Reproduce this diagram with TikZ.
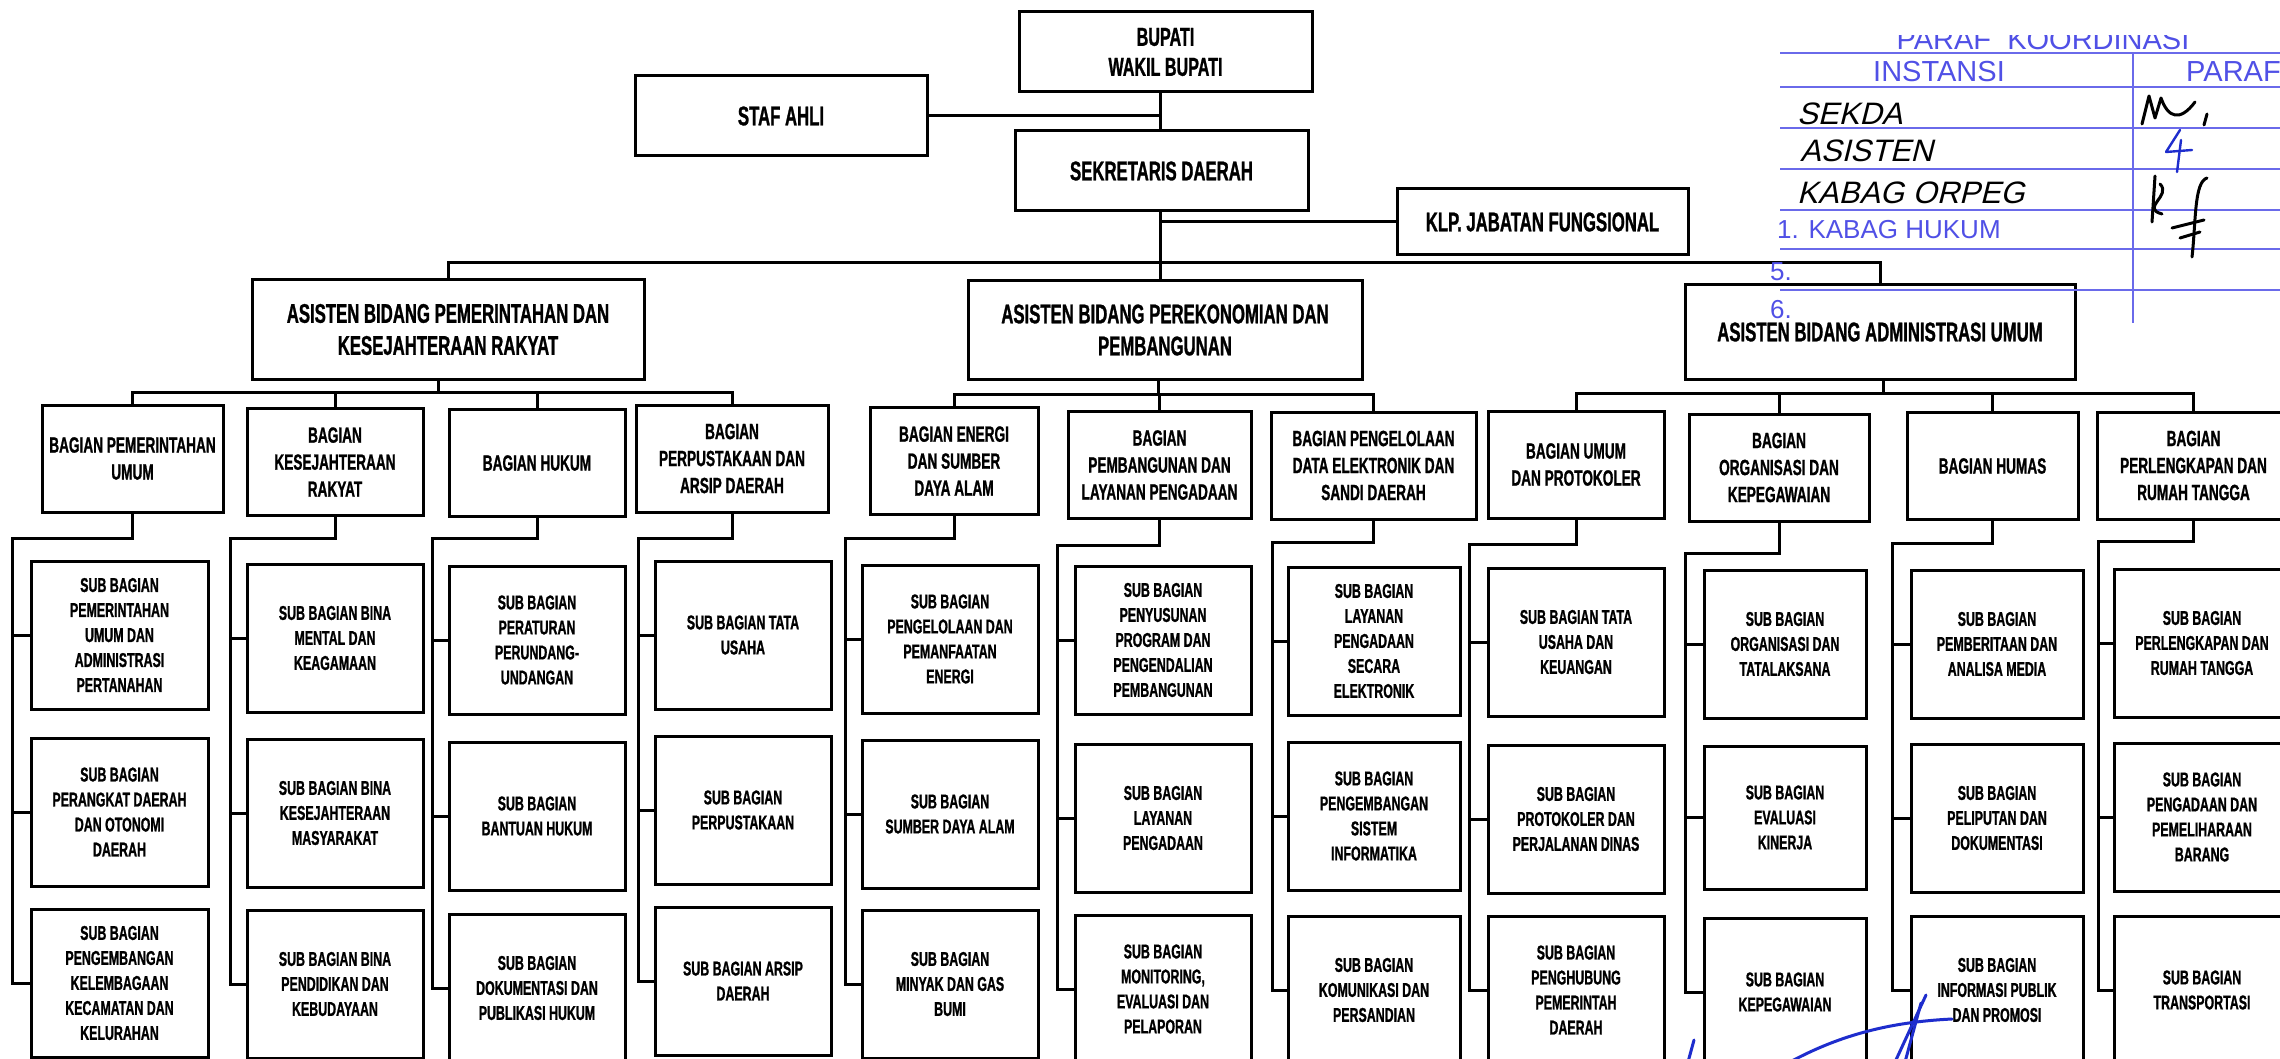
\documentclass[tikz,border=0pt]{standalone}
\usepackage{fontspec}
\newfontfamily\orgfont{Liberation Sans}[FakeStretch=0.62, FakeBold=1]
\newfontfamily\stampfont{Liberation Sans}
\newfontfamily\handfont{Liberation Sans}[FakeSlant=0.25]
\definecolor{stampblue}{RGB}{80,80,230}
\definecolor{penblue}{RGB}{30,45,205}

\tikzset{
  box/.style={draw, line width=3pt, align=center, inner sep=0pt},
  headbox/.style={box, font=\orgfont\bfseries\fontsize{27}{32}\selectfont},
  bagbox/.style={box, font=\orgfont\bfseries\fontsize{22}{27}\selectfont, minimum height=107pt},
  subbox/.style={box, font=\orgfont\bfseries\fontsize{20}{25}\selectfont, minimum width=176pt, minimum height=148pt},
  link/.style={line width=3pt},
  stampline/.style={line width=2.8pt, stampblue!85},
  stamptext/.style={inner sep=0pt, text=stampblue, font=\stampfont\fontsize{29}{29}\selectfont},
  hand/.style={inner sep=0pt, font=\handfont\fontsize{31}{31}\selectfont},
  ink/.style={line width=3pt, line cap=round, line join=round},
}

\begin{document}
\begin{tikzpicture}[x=1pt, y=-1pt]
        \path[use as bounding box, fill=white] (0,0) rectangle (2280,1059);

        % Top level
        \node[headbox, font=\orgfont\bfseries\fontsize{26}{30}\selectfont, minimum width=293pt, minimum height=80pt] (bupati) at (1165.5,52) {BUPATI\\WAKIL BUPATI};
        \node[headbox, minimum width=292pt, minimum height=80pt] (staf) at (781,116) {STAF AHLI};
        \node[headbox, minimum width=293pt, minimum height=80pt] (sekda) at (1161.5,171) {SEKRETARIS DAERAH};
        \node[headbox, minimum width=291pt, minimum height=66pt] (klp) at (1542.5,222) {KLP. JABATAN FUNGSIONAL};
        \coordinate (tr) at (1160,263);

        % Asisten
        \node[headbox, minimum width=392pt, minimum height=99pt] (asis1) at (448,329.5) {ASISTEN BIDANG PEMERINTAHAN DAN\\KESEJAHTERAAN RAKYAT};
        \node[headbox, minimum width=394pt, minimum height=98pt] (asis2) at (1165,330) {ASISTEN BIDANG PEREKONOMIAN DAN\\PEMBANGUNAN};
        \node[headbox, minimum width=390pt, minimum height=94pt] (asis3) at (1880,332) {ASISTEN BIDANG ADMINISTRASI UMUM};

        \draw[link] (bupati.south -| tr) -- (sekda.north -| tr);
        \draw[link] (staf.east) -- (staf.east -| tr);
        \draw[link] (sekda.south -| tr) -- (asis2.north -| tr);
        \draw[link] (klp.west) -- (klp.west -| tr);
        \draw[link] (asis1.north) |- (tr) -| (asis3.north);

        % Bagian
        \node[bagbox, minimum width=181pt] (bag1) at (132.5,458.5) {BAGIAN PEMERINTAHAN\\UMUM};
        \node[bagbox, minimum width=176pt] (bag2) at (335,462) {BAGIAN\\KESEJAHTERAAN\\RAKYAT};
        \node[bagbox, minimum width=176pt] (bag3) at (537,463) {BAGIAN HUKUM};
        \node[bagbox, minimum width=192pt] (bag4) at (732,458.5) {BAGIAN\\PERPUSTAKAAN DAN\\ARSIP DAERAH};
        \node[bagbox, minimum width=168pt] (bag5) at (954,461) {BAGIAN ENERGI\\DAN SUMBER\\DAYA ALAM};
        \node[bagbox, minimum width=183pt] (bag6) at (1159.5,465) {BAGIAN\\PEMBANGUNAN DAN\\LAYANAN PENGADAAN};
        \node[bagbox, minimum width=205pt] (bag7) at (1373.5,465.5) {BAGIAN PENGELOLAAN\\DATA ELEKTRONIK DAN\\SANDI DAERAH};
        \node[bagbox, minimum width=176pt] (bag8) at (1576,464.5) {BAGIAN UMUM\\DAN PROTOKOLER};
        \node[bagbox, minimum width=180pt] (bag9) at (1779,467.5) {BAGIAN\\ORGANISASI DAN\\KEPEGAWAIAN};
        \node[bagbox, minimum width=171pt] (bag10) at (1992.5,466) {BAGIAN HUMAS};
        \node[bagbox, minimum width=192pt] (bag11) at (2193.5,465.5) {BAGIAN\\PERLENGKAPAN DAN\\RUMAH TANGGA};

        \coordinate (k1) at (438,392);
        \coordinate (k2) at (1158,394);
        \coordinate (k3) at (1883,393);
        \draw[link] (asis1.south -| k1) -- (k1);
        \draw[link] (asis2.south -| k2) -- (k2);
        \draw[link] (asis3.south -| k3) -- (k3);
        \draw[link] (bag1.north) |- (k1) -| (bag4.north);
        \draw[link] (bag5.north) |- (k2) -| (bag7.north);
        \draw[link] (bag8.north) |- (k3) -| (bag11.north);
        \foreach \b/\k in {2/1, 3/1, 6/2, 9/3, 10/3}
          \draw[link] (bag\b.north) -- (bag\b.north |- k\k);

        % Sub bagian
        \node[subbox, minimum width=177pt] (s1-1) at (119.5,635) {SUB BAGIAN\\PEMERINTAHAN\\UMUM DAN\\ADMINISTRASI\\PERTANAHAN};
        \node[subbox, minimum width=177pt] (s1-2) at (119.5,812) {SUB BAGIAN\\PERANGKAT DAERAH\\DAN OTONOMI\\DAERAH};
        \node[subbox, minimum width=177pt] (s1-3) at (119.5,983) {SUB BAGIAN\\PENGEMBANGAN\\KELEMBAGAAN\\KECAMATAN DAN\\KELURAHAN};

        \node[subbox] (s2-1) at (335,638) {SUB BAGIAN BINA\\MENTAL DAN\\KEAGAMAAN};
        \node[subbox] (s2-2) at (335,813) {SUB BAGIAN BINA\\KESEJAHTERAAN\\MASYARAKAT};
        \node[subbox] (s2-3) at (335,984) {SUB BAGIAN BINA\\PENDIDIKAN DAN\\KEBUDAYAAN};

        \node[subbox] (s3-1) at (537,640) {SUB BAGIAN\\PERATURAN\\PERUNDANG-\\UNDANGAN};
        \node[subbox] (s3-2) at (537,816) {SUB BAGIAN\\BANTUAN HUKUM};
        \node[subbox] (s3-3) at (537,988) {SUB BAGIAN\\DOKUMENTASI DAN\\PUBLIKASI HUKUM};

        \node[subbox] (s4-1) at (743,635) {SUB BAGIAN TATA\\USAHA};
        \node[subbox] (s4-2) at (743,810) {SUB BAGIAN\\PERPUSTAKAAN};
        \node[subbox] (s4-3) at (743,981) {SUB BAGIAN ARSIP\\DAERAH};

        \node[subbox] (s5-1) at (950,639) {SUB BAGIAN\\PENGELOLAAN DAN\\PEMANFAATAN\\ENERGI};
        \node[subbox] (s5-2) at (950,814) {SUB BAGIAN\\SUMBER DAYA ALAM};
        \node[subbox] (s5-3) at (950,984) {SUB BAGIAN\\MINYAK DAN GAS\\BUMI};

        \node[subbox] (s6-1) at (1163,640) {SUB BAGIAN\\PENYUSUNAN\\PROGRAM DAN\\PENGENDALIAN\\PEMBANGUNAN};
        \node[subbox] (s6-2) at (1163,818) {SUB BAGIAN\\LAYANAN\\PENGADAAN};
        \node[subbox] (s6-3) at (1163,989) {SUB BAGIAN\\MONITORING,\\EVALUASI DAN\\PELAPORAN};

        \node[subbox, minimum width=172pt] (s7-1) at (1374,641) {SUB BAGIAN\\LAYANAN\\PENGADAAN\\SECARA\\ELEKTRONIK};
        \node[subbox, minimum width=172pt] (s7-2) at (1374,816) {SUB BAGIAN\\PENGEMBANGAN\\SISTEM\\INFORMATIKA};
        \node[subbox, minimum width=172pt] (s7-3) at (1374,990) {SUB BAGIAN\\KOMUNIKASI DAN\\PERSANDIAN};

        \node[subbox] (s8-1) at (1576,642) {SUB BAGIAN TATA\\USAHA DAN\\KEUANGAN};
        \node[subbox] (s8-2) at (1576,819) {SUB BAGIAN\\PROTOKOLER DAN\\PERJALANAN DINAS};
        \node[subbox] (s8-3) at (1576,990) {SUB BAGIAN\\PENGHUBUNG\\PEMERINTAH\\DAERAH};

        \node[subbox, minimum width=162pt] (s9-1) at (1785,644) {SUB BAGIAN\\ORGANISASI DAN\\TATALAKSANA};
        \node[subbox, minimum width=162pt, minimum height=143pt] (s9-2) at (1785,817.5) {SUB BAGIAN\\EVALUASI\\KINERJA};
        \node[subbox, minimum width=162pt] (s9-3) at (1785,992) {SUB BAGIAN\\KEPEGAWAIAN};

        \node[subbox, minimum width=172pt] (s10-1) at (1997,644) {SUB BAGIAN\\PEMBERITAAN DAN\\ANALISA MEDIA};
        \node[subbox, minimum width=172pt] (s10-2) at (1997,818) {SUB BAGIAN\\PELIPUTAN DAN\\DOKUMENTASI};
        \node[subbox, minimum width=172pt] (s10-3) at (1997,990) {SUB BAGIAN\\INFORMASI PUBLIK\\DAN PROMOSI};

        \node[subbox] (s11-1) at (2202,643) {SUB BAGIAN\\PERLENGKAPAN DAN\\RUMAH TANGGA};
        \node[subbox] (s11-2) at (2202,817) {SUB BAGIAN\\PENGADAAN DAN\\PEMELIHARAAN\\BARANG};
        \node[subbox] (s11-3) at (2202,990) {SUB BAGIAN\\TRANSPORTASI};

        % Bagian to sub bagian
        \coordinate (e1) at (12,538);
        \coordinate (e2) at (230,538);
        \coordinate (e3) at (432,538);
        \coordinate (e4) at (638,538);
        \coordinate (e5) at (845,538);
        \coordinate (e6) at (1057,545);
        \coordinate (e7) at (1272,542);
        \coordinate (e8) at (1469,544);
        \coordinate (e9) at (1685,553);
        \coordinate (e10) at (1892,543);
        \coordinate (e11) at (2098,541);
        \foreach \c in {1,...,11} {
          \draw[link] (bag\c.south) |- (e\c) |- (s\c-3.west);
          \draw[link] (e\c |- s\c-1.west) -- (s\c-1.west);
          \draw[link] (e\c |- s\c-2.west) -- (s\c-2.west);
        }

        % Paraf koordinasi stamp
        \begin{scope}
          \clip (1850,36) rectangle (2250,60);
          \node[stamptext, anchor=base] (paraftitle) at (2043,50) {PARAF\ \ KOORDINASI};
        \end{scope}
        \foreach \y in {53,87,128,169,210,249,290}
          \draw[stampline] (1780,\y) -- (2285,\y);
        \draw[stampline] (2133,53) -- (2133,323);
        \node[stamptext, anchor=base] (instansi) at (1939,82) {INSTANSI};
        \node[stamptext, anchor=base west] (paraf) at (2186,82) {PARAF};
        \node[stamptext, font=\stampfont\fontsize{26}{26}\selectfont, anchor=base west] (kabag) at (1777,239) {1. KABAG HUKUM};
        \node[stamptext, font=\stampfont\fontsize{26}{26}\selectfont, anchor=base west] (no5) at (1770,280) {5.};
        \node[stamptext, font=\stampfont\fontsize{26}{26}\selectfont, anchor=base west] (no6) at (1770,318) {6.};
        \node[hand, anchor=base west] (hw1) at (1797,125) {SEKDA};
        \node[hand, anchor=base west] (hw2) at (1800,162) {ASISTEN};
        \node[hand, anchor=base west] (hw3) at (1797,204) {KABAG\ ORPEG};

        % Paraf strokes
        \draw[ink] (2142,124) -- (2149,96) -- (2155,118) -- (2161,98) .. controls (2168,118) and (2180,122) .. (2195,102);
        \draw[ink] (2207,114) -- (2204,125);
        \draw[ink, penblue, line width=2.4pt] (2180,130) -- (2166,152) -- (2192,150);
        \draw[ink, penblue, line width=2.4pt] (2181,140) -- (2177,172);
        \draw[ink] (2155,176) -- (2152,222);
        \draw[ink] (2160,184) .. controls (2172,196) and (2140,208) .. (2162,214);
        \draw[ink] (2207,178) .. controls (2194,182) and (2196,222) .. (2192,257);
        \draw[ink] (2172,228) -- (2204,220);
        \draw[ink] (2180,238) -- (2200,232);

        % Signature
        \draw[ink, penblue] (1790,1062) .. controls (1840,1035) and (1890,1022) .. (1952,1019);
        \draw[ink, penblue] (1926,995) -- (1895,1062);
        \draw[ink, penblue] (1921,1003) -- (1905,1062);
        \draw[ink, penblue] (1694,1040) -- (1688,1062);
\end{tikzpicture}
\end{document}
